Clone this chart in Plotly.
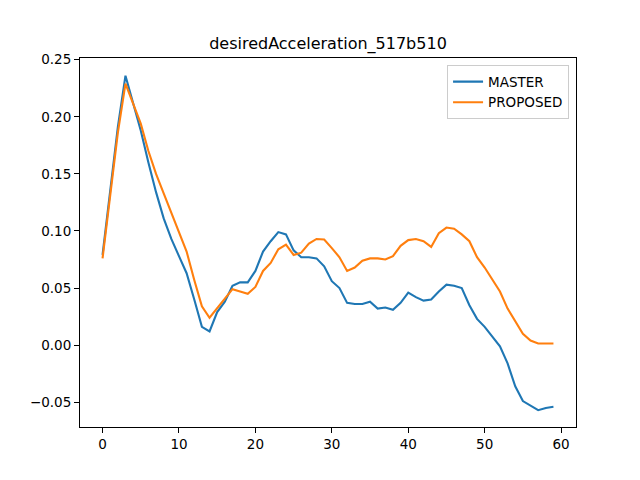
import plotly.graph_objects as go

x_steps = list(range(60))

master = [0.079, 0.135, 0.191, 0.236, 0.212, 0.188, 0.160, 0.134, 0.111, 0.093,
          0.078, 0.063, 0.040, 0.016, 0.012, 0.029, 0.038, 0.052, 0.055, 0.055,
          0.065, 0.082, 0.091, 0.099, 0.097, 0.083, 0.077, 0.077, 0.076, 0.069,
          0.056, 0.050, 0.037, 0.036, 0.036, 0.038, 0.032, 0.033, 0.031, 0.037,
          0.046, 0.042, 0.039, 0.040, 0.047, 0.053, 0.052, 0.050, 0.035, 0.023,
          0.016, 0.008, -0.001, -0.016, -0.036, -0.049, -0.053, -0.057, -0.055, -0.054]

proposed = [0.076, 0.132, 0.186, 0.229, 0.211, 0.194, 0.170, 0.150, 0.133, 0.116,
            0.099, 0.082, 0.057, 0.034, 0.024, 0.032, 0.040, 0.049, 0.047, 0.045,
            0.051, 0.065, 0.072, 0.084, 0.088, 0.079, 0.081, 0.089, 0.093, 0.0925,
            0.085, 0.077, 0.065, 0.068, 0.074, 0.076, 0.076, 0.075, 0.078, 0.087,
            0.092, 0.093, 0.091, 0.086, 0.098, 0.103, 0.102, 0.097, 0.091, 0.077,
            0.068, 0.058, 0.047, 0.032, 0.021, 0.010, 0.004, 0.0015, 0.0015, 0.0015]

x_ticks = [0, 10, 20, 30, 40, 50, 60]
y_ticks = [-0.05, 0.00, 0.05, 0.10, 0.15, 0.20, 0.25]

title_text = "desiredAcceleration_517b510"

fig = go.Figure()
fig.add_trace(go.Scatter(x=x_steps, y=master, mode="lines", name="MASTER",
                         line=dict(color="#1f77b4", width=2.1)))
fig.add_trace(go.Scatter(x=x_steps, y=proposed, mode="lines", name="PROPOSED",
                         line=dict(color="#ff7f0e", width=2.1)))

axis_common = dict(showgrid=False, zeroline=False, showline=True, linecolor="black",
                   linewidth=1, mirror=True, ticks="outside", ticklen=5, tickwidth=1,
                   tickcolor="black", tickfont=dict(family="DejaVu Sans", size=13.5, color="black"))

fig.update_layout(
    width=632, height=472,
    margin=dict(l=72, r=64, t=49.6, b=52.8, pad=0),
    paper_bgcolor="white", plot_bgcolor="white",
    title=dict(text=title_text, x=0.5063, xanchor="center", y=0.926, yanchor="middle",
               font=dict(family="DejaVu Sans", size=16, color="black")),
    xaxis=dict(range=[-2.95, 61.95], tickvals=x_ticks, **axis_common),
    yaxis=dict(range=[-0.0717, 0.2515], tickvals=y_ticks, tickformat=".2f", **axis_common),
    legend=dict(x=0.986, y=0.98, xanchor="right", yanchor="top",
                bordercolor="#cccccc", borderwidth=1, bgcolor="rgba(255,255,255,0.8)",
                font=dict(family="DejaVu Sans", size=13.5, color="black"),
                tracegroupgap=0),
    showlegend=True,
)

fig.write_html("out.html")
